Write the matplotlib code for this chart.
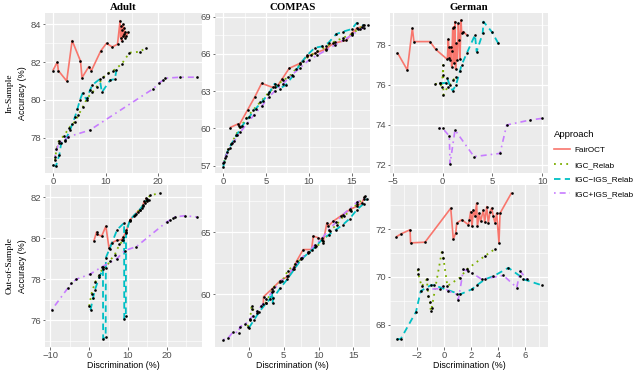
import numpy as np
import matplotlib
matplotlib.use("Agg")
import matplotlib.pyplot as plt
from matplotlib.lines import Line2D
from matplotlib.ticker import AutoMinorLocator

# ---------------- data ----------------
approaches = ["FairOCT", "IGC_Relab", "IGC\u2212IGS_Relab", "IGC+IGS_Relab"]
datasets = ["Adult", "COMPAS", "German"]
samples = ["In-Sample", "Out-of-Sample"]
xlabel = "Discrimination (%)"
ylabel = "Accuracy (%)"

# Adult, in-sample
adult_is_fair_x = [-0.1, 0.77, 0.96, 2.56, 3.6, 5.2, 5.5, 6.8, 7.3, 9.1, 10.2, 11.3, 12.3, 12.8, 12.9, 13.0, 13.1, 13.2, 13.3, 13.4, 13.5, 13.6, 13.7, 13.8, 14.0, 14.4]
adult_is_fair_y = [81.55, 82.0, 81.55, 81.0, 83.14, 82.06, 81.18, 81.76, 81.55, 82.6, 83.0, 82.8, 82.95, 84.2, 83.3, 83.9, 83.1, 83.7, 83.4, 84.0, 83.5, 83.8, 83.3, 83.6, 83.4, 83.6]
adult_is_igc_x = [0.3, 0.6, 1.0, 2.0, 3.0, 3.5, 4.2, 4.8, 5.6, 6.5, 7.5, 8.3, 9.6, 10.4, 11.5, 13.1, 14.6, 16.6, 17.7]
adult_is_igc_y = [76.8, 77.4, 77.8, 78.1, 78.5, 78.7, 78.85, 79.2, 79.6, 80.1, 80.4, 80.7, 81.2, 81.4, 81.55, 81.9, 82.5, 82.55, 82.75]
adult_is_minus_x = [-0.1, 0.5, 1.15, 1.5, 2.2, 3.2, 4.15, 4.6, 5.1, 5.6, 6.4, 7.0, 7.5, 8.9, 9.3, 10.9, 11.8, 12.1]
adult_is_minus_y = [76.55, 76.5, 77.1, 77.7, 77.8, 78.4, 79.1, 79.5, 80.0, 80.35, 80.0, 80.5, 80.8, 81.1, 80.4, 81.05, 81.1, 81.6]
adult_is_plus_x = [0.3, 1.0, 2.2, 2.9, 7.0, 19.2, 20.3, 21.1, 21.5, 24.3, 27.5]
adult_is_plus_y = [77.0, 77.7, 77.9, 78.05, 78.4, 80.6, 80.9, 81.05, 81.15, 81.2, 81.2]

# COMPAS, in-sample
compas_is_fair_x = [0.78, 1.7, 1.8, 2.85, 3.7, 4.48, 5.77, 6.4, 6.9, 7.7, 8.96, 9.8, 10.7, 12.0, 12.86, 14.4, 15.0, 15.6, 16.2]
compas_is_fair_y = [60.06, 60.35, 60.2, 61.5, 62.55, 63.63, 63.3, 63.5, 64.0, 64.84, 65.24, 65.8, 66.05, 66.4, 66.85, 67.1, 67.66, 68.06, 68.2]
compas_is_igc_x = [0.1, 0.4, 0.9, 1.5, 2.0, 2.7, 3.5, 4.3, 5.2, 6.0, 7.0, 7.6, 8.5, 9.3, 10.2, 11.0, 12.0, 13.0, 14.0, 15.0, 15.8, 16.4]
compas_is_igc_y = [57.3, 58.1, 58.7, 59.5, 60.1, 60.8, 61.5, 62.1, 62.8, 63.3, 63.9, 64.1, 64.8, 65.4, 65.9, 66.2, 66.6, 67.0, 67.3, 67.6, 68.0, 68.3]
compas_is_minus_x = [0.0, 0.2, 0.6, 1.0, 1.6, 2.2, 3.0, 3.8, 4.6, 5.4, 6.0, 6.6, 7.3, 8.1, 9.0, 9.8, 10.7, 11.5, 12.3, 13.2, 14.0, 15.0, 15.6, 16.3]
compas_is_minus_y = [56.9, 57.6, 58.3, 58.8, 59.5, 60.2, 60.9, 61.6, 62.2, 62.9, 63.6, 63.2, 63.5, 64.2, 65.2, 65.9, 66.5, 66.6, 66.9, 67.6, 67.8, 68.0, 68.5, 68.3]
compas_is_plus_x = [0.0, 0.3, 0.8, 1.3, 2.0, 2.8, 3.6, 4.5, 5.3, 6.0, 7.0, 8.0, 9.0, 10.0, 11.0, 12.0, 13.0, 14.0, 15.0, 16.0, 16.5, 16.9]
compas_is_plus_y = [57.2, 57.8, 58.4, 59.0, 59.7, 60.4, 61.1, 61.8, 62.5, 63.0, 63.6, 64.3, 64.9, 65.5, 65.9, 66.3, 66.7, 67.1, 67.5, 68.0, 68.1, 68.3]

# German, in-sample
german_is_fair_x = [-4.56, -3.56, -3.05, -2.89, -1.28, -0.7, 0.47, 0.57, 0.62, 0.67, 0.74, 0.81, 0.91, 0.95, 1.01, 1.1, 1.14, 1.24, 1.3, 1.34, 1.48, 1.58, 1.68, 1.74, 1.85, 1.91, 2.08, 2.42]
german_is_fair_y = [77.62, 76.75, 78.83, 78.17, 78.17, 77.78, 77.28, 78.28, 77.9, 77.33, 77.25, 77.92, 76.92, 77.7, 78.83, 78.9, 77.08, 79.17, 76.8, 78.08, 77.25, 79.08, 78.25, 77.28, 79.25, 78.58, 78.67, 78.5]
german_is_igc_x = [-0.77, -0.27, -0.1, 0.0, 0.05, 0.07, 0.5, 1.07, 1.34]
german_is_igc_y = [76.05, 76.08, 75.88, 76.5, 77.0, 75.5, 75.9, 76.25, 76.42]
german_is_minus_x = [-0.27, 0.3, 0.47, 0.7, 1.0, 1.34, 1.74, 1.9, 2.42, 3.25, 3.42, 4.03, 4.1, 4.93, 5.6]
german_is_minus_y = [76.08, 76.1, 76.33, 76.0, 75.72, 76.0, 76.7, 77.0, 77.58, 78.5, 77.67, 78.58, 79.17, 78.67, 78.08]
german_is_plus_x = [-0.34, 0.0, 0.67, 0.74, 1.24, 3.15, 5.77, 6.44, 8.8, 9.97]
german_is_plus_y = [73.83, 73.83, 73.45, 72.05, 73.75, 72.42, 72.58, 74.0, 74.25, 74.33]

# Adult, out-of-sample
adult_oos_fair_x = [1.2, 1.9, 2.1, 3.2, 4.3, 5.1, 5.8, 7.1, 8.4, 8.8, 9.5, 10.5, 11.5, 12.5, 13.1, 13.8, 14.2, 14.5, 14.7, 15.0, 15.3]
adult_oos_fair_y = [79.86, 80.31, 80.2, 80.1, 80.59, 79.54, 79.78, 79.9, 79.94, 80.07, 80.3, 80.9, 81.1, 81.3, 81.4, 81.6, 81.8, 81.7, 81.95, 81.8, 81.87]
adult_oos_igc_x = [0.0, 0.6, 1.5, 2.6, 3.6, 4.4, 5.3, 6.6, 7.8, 8.8, 9.5, 10.5, 11.8, 13.0, 14.0, 15.0, 15.7, 18.3]
adult_oos_igc_y = [76.7, 77.3, 77.85, 78.2, 78.6, 78.55, 78.9, 79.2, 79.7, 79.9, 80.42, 80.83, 81.15, 81.4, 81.63, 81.9, 82.1, 82.2]
adult_oos_minus_x = [0.34, 1.0, 1.5, 2.6, 3.55, 3.6, 4.25, 4.3, 5.3, 7.2, 9.0, 9.05, 9.45, 9.5, 10.5, 12.0, 13.5, 14.8]
adult_oos_minus_y = [76.5, 77.1, 77.5, 78.1, 78.5, 75.1, 75.2, 79.06, 79.5, 80.42, 80.75, 76.08, 76.2, 80.26, 80.9, 81.2, 81.5, 81.87]
adult_oos_plus_x = [-9.7, -5.4, -4.6, -3.4, 0.2, 3.2, 7.1, 9.2, 12.2, 20.0, 20.9, 21.7, 22.2, 24.7, 27.8]
adult_oos_plus_y = [76.5, 77.6, 77.8, 78.0, 78.25, 78.6, 79.0, 79.4, 79.6, 80.8, 80.9, 81.0, 81.05, 81.1, 81.04]

# COMPAS, out-of-sample
compas_oos_fair_x = [2.06, 2.1, 3.26, 4.46, 5.65, 6.3, 6.85, 7.8, 9.0, 9.25, 9.97, 10.7, 11.2, 11.4, 12.1, 13.3, 14.5, 15.5, 16.2, 16.7]
compas_oos_fair_y = [59.2, 59.8, 60.4, 61.07, 61.47, 62.0, 62.67, 63.6, 63.6, 64.68, 64.55, 64.28, 65.75, 65.48, 65.88, 66.34, 66.82, 67.08, 67.35, 67.9]
compas_oos_igc_x = [-0.2, 0.14, 0.38, 0.5, 1.2, 2.4, 3.6, 4.8, 5.6, 6.6, 7.6, 8.6, 9.6, 10.6, 11.6, 12.6, 13.6, 14.6, 15.6, 16.6]
compas_oos_igc_y = [57.4, 57.9, 59.06, 58.8, 58.5, 59.3, 60.6, 61.1, 61.9, 62.4, 62.9, 63.4, 63.9, 64.1, 65.1, 65.6, 66.3, 66.7, 67.3, 67.8]
compas_oos_minus_x = [0.0, 0.7, 1.5, 2.5, 3.0, 3.3, 3.4, 3.5, 4.5, 5.5, 6.5, 7.5, 8.5, 9.5, 10.5, 11.5, 12.5, 13.5, 14.5, 15.5, 16.5, 17.0]
compas_oos_minus_y = [57.3, 57.9, 58.6, 59.3, 59.6, 60.2, 59.3, 59.7, 60.5, 61.2, 62.0, 62.8, 63.3, 63.8, 64.4, 64.8, 65.2, 65.6, 66.1, 66.8, 67.3, 67.7]
compas_oos_plus_x = [-3.7, -3.0, -2.25, -1.5, -1.3, -0.5, 0.1, 0.62, 1.2, 1.8, 2.5, 3.5, 4.5, 5.5, 6.5, 7.5, 8.5, 9.5, 10.5, 11.5, 12.5, 13.5, 14.5, 15.5, 16.5]
compas_oos_plus_y = [56.34, 56.47, 56.98, 56.9, 57.38, 57.6, 58.0, 58.26, 58.66, 59.06, 59.6, 60.3, 61.0, 61.5, 62.2, 62.9, 63.4, 64.0, 64.5, 65.2, 65.8, 66.4, 66.9, 67.4, 67.7]

# German, out-of-sample
german_oos_fair_x = [-3.58, -3.2, -2.54, -2.5, -1.43, 0.48, 0.67, 0.85, 0.92, 1.3, 1.79, 1.86, 1.96, 2.06, 2.16, 2.28, 2.4, 2.46, 2.6, 2.7, 2.9, 3.0, 3.15, 3.27, 3.4, 3.52, 3.64, 3.77, 3.89, 4.06, 4.14, 5.0]
german_oos_fair_y = [71.67, 71.8, 71.97, 71.42, 71.45, 72.87, 71.58, 71.83, 72.25, 72.39, 72.18, 72.39, 72.73, 72.11, 72.8, 72.53, 73.08, 72.11, 72.66, 72.32, 72.8, 72.28, 72.94, 72.25, 72.73, 72.87, 72.53, 72.25, 72.66, 71.42, 72.66, 73.52]
german_oos_igc_x = [-1.97, -1.92, -1.68, -1.3, -1.18, -1.06, -1.0, -0.93, -0.19, -0.07, 0.23, 1.17, 1.66, 3.0, 3.77]
german_oos_igc_y = [70.31, 70.1, 69.6, 69.9, 69.2, 68.93, 68.58, 68.72, 71.03, 70.8, 69.62, 69.97, 70.31, 70.87, 71.17]
german_oos_minus_x = [-3.53, -3.24, -2.1, -1.75, -1.0, -0.75, 1.17, 2.04, 2.41, 3.03, 3.65, 4.76, 5.63, 5.88, 7.24]
german_oos_minus_y = [67.4, 67.4, 68.54, 69.41, 69.65, 69.65, 69.27, 69.48, 69.65, 69.9, 70.03, 70.38, 70.03, 69.9, 69.65]
german_oos_plus_x = [-1.3, -0.3, -0.1, 0.3, 0.92, 1.04, 1.42, 1.79, 2.04, 2.78, 4.39, 5.38, 5.63, 6.13]
german_oos_plus_y = [69.48, 69.51, 69.6, 69.41, 69.27, 69.04, 70.31, 70.24, 70.17, 69.9, 70.06, 69.55, 70.24, 69.9]

# tick labels per panel (row, col)
xticks = {(0, 0): [0, 10, 20], (0, 1): [0, 5, 10, 15], (0, 2): [-5, 0, 5, 10],
          (1, 0): [-10, 0, 10, 20], (1, 1): [0, 5, 10, 15], (1, 2): [-2, 0, 2, 4, 6]}
yticks = {(0, 0): [78, 80, 82, 84], (0, 1): [57, 60, 63, 66, 69], (0, 2): [72, 74, 76, 78],
          (1, 0): [76, 78, 80, 82], (1, 1): [60, 65], (1, 2): [68, 70, 72]}

panels = {
    (0, 0): [(adult_is_fair_x, adult_is_fair_y), (adult_is_igc_x, adult_is_igc_y),
             (adult_is_minus_x, adult_is_minus_y), (adult_is_plus_x, adult_is_plus_y)],
    (0, 1): [(compas_is_fair_x, compas_is_fair_y), (compas_is_igc_x, compas_is_igc_y),
             (compas_is_minus_x, compas_is_minus_y), (compas_is_plus_x, compas_is_plus_y)],
    (0, 2): [(german_is_fair_x, german_is_fair_y), (german_is_igc_x, german_is_igc_y),
             (german_is_minus_x, german_is_minus_y), (german_is_plus_x, german_is_plus_y)],
    (1, 0): [(adult_oos_fair_x, adult_oos_fair_y), (adult_oos_igc_x, adult_oos_igc_y),
             (adult_oos_minus_x, adult_oos_minus_y), (adult_oos_plus_x, adult_oos_plus_y)],
    (1, 1): [(compas_oos_fair_x, compas_oos_fair_y), (compas_oos_igc_x, compas_oos_igc_y),
             (compas_oos_minus_x, compas_oos_minus_y), (compas_oos_plus_x, compas_oos_plus_y)],
    (1, 2): [(german_oos_fair_x, german_oos_fair_y), (german_oos_igc_x, german_oos_igc_y),
             (german_oos_minus_x, german_oos_minus_y), (german_oos_plus_x, german_oos_plus_y)],
}

# ---------------- styling / layout ----------------
colors = ["#F8766D", "#7CAE00", "#00BFC4", "#C77CFF"]
styles = ["-", (0, (1, 2.4)), (0, (3.6, 2.4)), (0, (1, 2.4, 3.6, 2.4))]
lws = [1.2, 1.3, 1.3, 1.2]

W, H = 640, 370
cols_px = [(45, 202), (215, 370), (390, 548)]
rows_px = [(13, 173), (185, 347)]
xlims = {(0, 0): (-1.6, 28.5), (0, 1): (-0.97, 17.15), (0, 2): (-5.3, 10.6),
         (1, 0): (-11.4, 29.1), (1, 1): (-4.88, 17.4), (1, 2): (-4.03, 7.7)}
ylims = {(0, 0): (76.13, 84.6), (0, 1): (56.4, 69.3), (0, 2): (71.6, 79.6),
         (1, 0): (74.7, 82.6), (1, 1): (55.75, 68.8), (1, 2): (67.07, 73.84)}

sans = ["Liberation Sans", "DejaVu Sans"]
serif = ["Liberation Serif", "DejaVu Serif"]
plt.rcParams["font.family"] = sans

fig = plt.figure(figsize=(W / 100, H / 100), dpi=100)
fig.patch.set_facecolor("white")

for (r, c), series in panels.items():
    x0, x1 = cols_px[c]
    y0, y1 = rows_px[r]
    ax = fig.add_axes([x0 / W, 1 - y1 / H, (x1 - x0) / W, (y1 - y0) / H])
    ax.set_facecolor("#EBEBEB")
    for s in ax.spines.values():
        s.set_visible(False)
    ax.set_xticks(xticks[(r, c)])
    ax.set_yticks(yticks[(r, c)])
    ax.xaxis.set_minor_locator(AutoMinorLocator(2))
    ax.yaxis.set_minor_locator(AutoMinorLocator(2))
    ax.grid(which="major", color="white", lw=0.9)
    ax.grid(which="minor", color="white", lw=0.45)
    ax.set_axisbelow(True)
    ax.tick_params(which="major", length=1.8, width=0.5, color="#333333",
                   labelsize=6.8, labelcolor="#4D4D4D", pad=1.0)
    ax.tick_params(which="minor", length=0)
    for i, (xs, ys) in enumerate(series):
        xs = np.asarray(xs); ys = np.asarray(ys)
        o = np.argsort(xs, kind="stable")
        ax.plot(xs[o], ys[o], color=colors[i], linestyle=styles[i], lw=lws[i],
                zorder=2 + i * 0.1, solid_capstyle="butt", dash_capstyle="butt")
    for xs, ys in series:
        ax.plot(xs, ys, linestyle="none", marker="o", ms=1.9, mew=0,
                color="black", zorder=4)
    ax.set_xlim(*xlims[(r, c)])
    ax.set_ylim(*ylims[(r, c)])
    if r == 0:
        ax.set_title(datasets[c], fontsize=7.8, fontweight="bold",
                     family=serif, pad=2.5)
    if r == 1:
        fig.text((x0 + x1) / 2 / W, 0.4 / H, xlabel, ha="center",
                 va="bottom", fontsize=6.4)

# row labels
for r, lab in enumerate(samples):
    y0, y1 = rows_px[r]
    yc = 1 - (y0 + y1) / 2 / H
    fig.text(10 / W, yc, lab, rotation=90, ha="center", va="center",
             fontsize=6.8, family=serif)
    fig.text(22.5 / W, yc, ylabel, rotation=90, ha="center",
             va="center", fontsize=6.5, family=sans)

# legend
handles = [Line2D([0], [0], color=colors[i], linestyle=styles[i], lw=lws[i])
           for i in range(4)]
leg = fig.legend(handles, approaches, title="Approach", loc="upper left",
                 bbox_to_anchor=(552 / W, 1 - 128 / H), frameon=False,
                 fontsize=5.9, title_fontsize=6.8, handlelength=1.9,
                 handletextpad=0.5, labelspacing=0.85, borderaxespad=0,
                 borderpad=0.3)
leg._legend_box.align = "left"

fig.savefig("out.png", dpi=100, facecolor="white")
